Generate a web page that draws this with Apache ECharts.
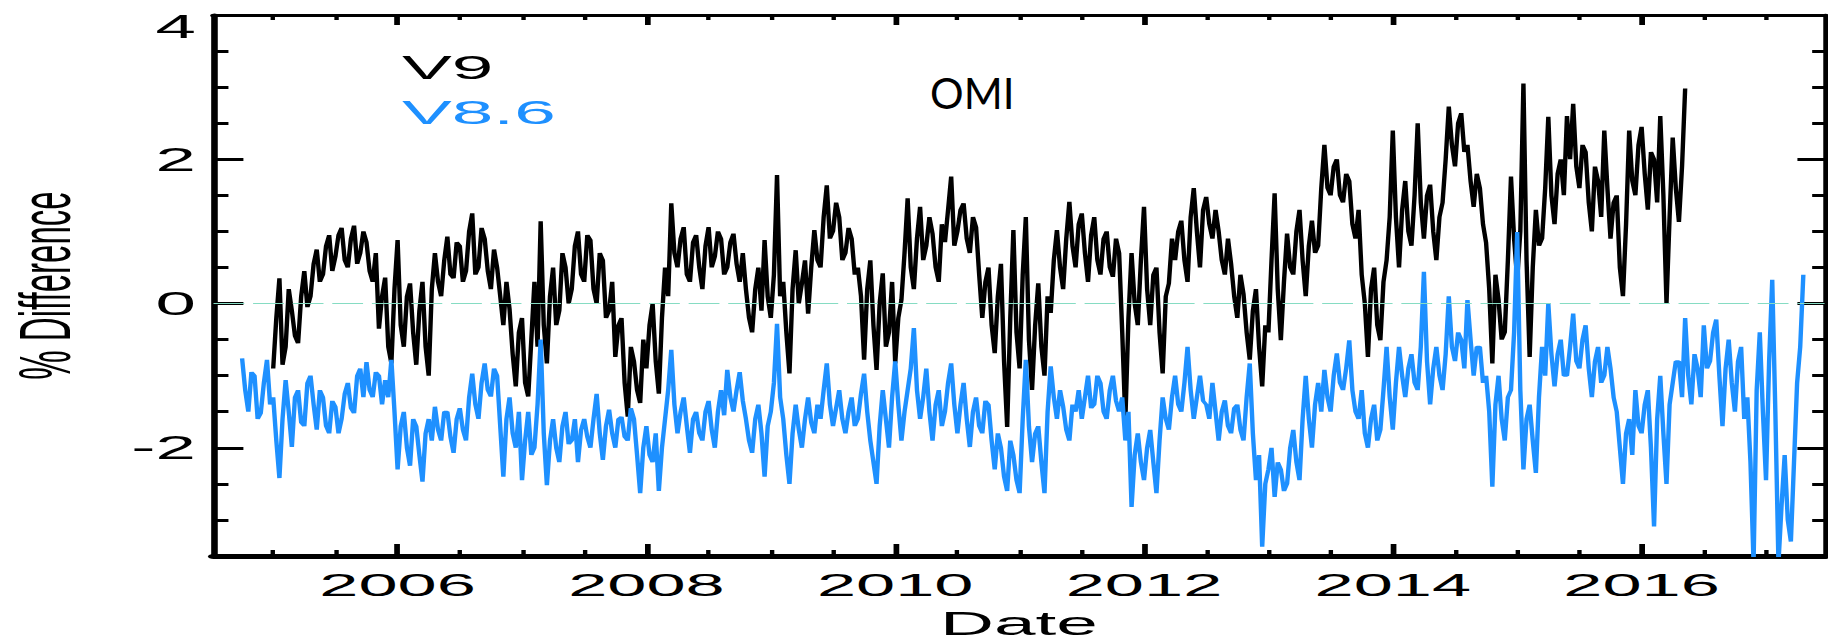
<!DOCTYPE html>
<html>
<head>
<meta charset="utf-8">
<script src="https://cdn.jsdelivr.net/npm/echarts@6/dist/echarts.min.js"></script>
<style>
html,body{margin:0;padding:0;background:#fff;overflow:hidden;}
#wrap{width:1828px;height:642px;position:relative;overflow:hidden;background:#fff;}
#chart{width:831px;height:642px;transform-origin:0 0;}
</style>
</head>
<body>
<div id="wrap"><div id="chart"></div></div>
<script>
// ---------------- data ----------------
const X_MIN = 2004.52, X_MAX = 2017.47;
const Y_MIN = -3.5, Y_MAX = 4;
const yearLabelTicks = [2006, 2008, 2010, 2012, 2014, 2016];
const halfYearTicks = [2005, 2005.5, 2006.5, 2007, 2007.5, 2008.5, 2009, 2009.5, 2010.5, 2011, 2011.5,
  2012.5, 2013, 2013.5, 2014.5, 2015, 2015.5, 2016.5, 2017];
const yLabelTicks = [-2, 0, 2, 4];
const yMinorTicks = [-3, -2.5, -1.5, -1, -0.5, 0.5, 1, 1.5, 2.5, 3, 3.5];
const seriesNames = ['V9', 'V8.6'];
const titleText = 'OMI';

// sampling: every 0.025 year
const STEP = 0.025;
const V9_START = 2005.0;
const v9 = [
  // 2005
  -0.9, -0.2, 0.35, -0.85, -0.6, 0.2, -0.1, -0.45, -0.55, 0.1, 0.45, -0.05, 0.1, 0.55, 0.75, 0.3, 0.4, 0.8, 0.95, 0.45,
  0.65, 0.95, 1.05, 0.6, 0.5, 0.9, 1.08, 0.55, 0.7, 1.0, 0.85, 0.45, 0.3, 0.7, -0.35, 0.1, 0.36, -0.6, -0.83, 0.2,
  // 2006
  0.88, -0.3, -0.6, 0.1, 0.28, -0.4, -0.85, -0.1, 0.3, -0.6, -1.0, 0.2, 0.7, 0.3, 0.1, 0.6, 0.93, 0.4, 0.35, 0.85,
  0.8, 0.3, 0.45, 1.0, 1.25, 0.4, 0.5, 1.05, 0.9, 0.45, 0.2, 0.75, 0.5, 0.1, -0.3, 0.3, -0.08, -0.7, -1.15, -0.4,
  // 2007
  -0.2, -1.1, -1.29, -0.5, 0.3, -0.6, 1.14, -0.3, -0.83, 0.1, 0.5, -0.3, -0.1, 0.7, 0.5, 0.0, 0.2, 0.8, 1.0, 0.4,
  0.3, 0.95, 0.88, 0.2, 0.0, 0.7, 0.6, -0.2, -0.1, 0.3, -0.74, -0.3, -0.2, -1.1, -1.57, -0.6, -0.8, -1.2, -1.38, -0.5,
  // 2008
  -0.9, -0.3, 0.0, -0.8, -1.25, -0.2, 0.5, 0.1, 1.39, 0.7, 0.5, 0.9, 1.06, 0.4, 0.3, 0.85, 0.95, 0.5, 0.2, 0.8,
  1.06, 0.5, 0.65, 1.0, 0.9, 0.4, 0.5, 0.85, 0.97, 0.55, 0.3, 0.7, 0.2, -0.2, -0.4, 0.2, 0.5, -0.1, 0.88, 0.1,
  // 2009
  -0.2, 0.4, 1.78, 0.1, 0.3, -0.4, -0.97, 0.2, 0.74, 0.0, 0.28, 0.6, -0.14, 0.5, 1.02, 0.6, 0.5, 1.2, 1.64, 0.9,
  1.0, 1.4, 1.2, 0.6, 0.7, 1.05, 0.9, 0.4, 0.5, 0.1, -0.78, 0.2, 0.6, -0.3, -0.92, 0.0, 0.42, -0.6, -0.4, 0.3,
  // 2010
  -0.83, -0.2, 0.05, 0.7, 1.46, 0.5, 0.2, 0.9, 1.34, 0.6, 0.8, 1.2, 0.97, 0.5, 0.3, 1.1, 0.85, 1.3, 1.76, 0.8,
  1.0, 1.3, 1.39, 0.9, 0.7, 1.2, 1.06, 0.4, -0.2, 0.3, 0.5, -0.3, -0.69, 0.1, 0.55, -0.8, -1.71, -0.2, 1.02, -0.4,
  // 2011
  -0.9, 0.4, 1.2, -0.5, -1.2, -0.3, 0.28, -0.6, -1.0, 0.1, -0.13, 0.6, 1.02, 0.5, 0.2, 0.9, 1.41, 0.8, 0.5, 1.1,
  1.25, 0.7, 0.3, 0.95, 1.2, 0.6, 0.4, 0.9, 1.0, 0.5, 0.37, 0.9, 0.7, -0.4, -1.62, -0.2, 0.7, 0.0, -0.3, 0.6,
  // 2012
  1.34, 0.2, -0.3, 0.4, 0.5, -0.4, -0.97, 0.1, 0.28, 0.9, 0.6, 1.0, 1.15, 0.6, 0.3, 1.2, 1.6, 1.0, 0.5, 1.3,
  1.48, 1.1, 0.9, 1.3, 1.0, 0.6, 0.4, 0.9, 0.55, 0.1, -0.2, 0.4, 0.13, -0.4, -0.78, -0.1, 0.2, -0.6, -1.15, -0.3,
  // 2013
  -0.4, 0.6, 1.53, 0.2, -0.51, 0.3, 0.97, 0.5, 0.4, 1.0, 1.3, 0.6, 0.1, 0.8, 1.15, 0.7, 0.8, 1.6, 2.2, 1.6,
  1.5, 1.9, 2.0, 1.5, 1.4, 1.8, 1.7, 1.1, 0.9, 1.3, 0.4, 0.0, -0.74, 0.2, 0.5, -0.3, -0.51, 0.3, 0.6, 1.2,
  // 2014
  2.4, 1.2, 0.5, 1.3, 1.7, 1.0, 0.8, 1.5, 2.5, 1.4, 0.9, 1.5, 1.65, 1.0, 0.6, 1.2, 1.4, 2.0, 2.73, 2.2,
  1.9, 2.5, 2.64, 2.1, 2.2, 1.7, 1.34, 1.8, 1.6, 1.1, 0.84, 0.2, -0.83, 0.4, 0.05, -0.5, -0.4, 0.6, 1.76, 0.9,
  // 2015
  0.33, 1.0, 3.05, 0.6, -0.74, 0.5, 1.3, 0.8, 0.9, 1.6, 2.59, 1.5, 1.1, 1.8, 2.0, 1.5, 2.6, 2.0, 2.77, 1.9,
  1.6, 2.2, 2.1, 1.4, 1.0, 1.9, 1.7, 1.2, 2.4, 1.6, 0.9, 1.4, 1.5, 0.5, 0.1, 1.1, 2.4, 1.7, 1.5, 2.2,
  // 2016
  2.45, 1.8, 1.3, 2.1, 2.0, 1.4, 2.6, 1.5, 0.0, 1.2, 2.3, 1.6, 1.13, 1.9, 2.98
];
const V86_START = 2004.75;
const v86 = [
  // 2004.75 - 2004.975
  -0.76, -1.2, -1.5, -0.95, -1.0, -1.6, -1.52, -1.1, -0.78, -1.4,
  // 2005
  -1.3, -1.9, -2.42, -1.6, -1.06, -1.5, -1.99, -1.3, -1.2, -1.65, -1.7, -1.1, -1.0, -1.4, -1.75, -1.2, -1.3, -1.7, -1.8, -1.35,
  -1.43, -1.8, -1.6, -1.25, -1.1, -1.45, -1.52, -1.0, -0.9, -1.3, -0.81, -1.2, -1.3, -0.95, -1.0, -1.4, -1.06, -1.3, -0.78, -1.5,
  // 2006
  -2.3, -1.7, -1.5, -2.0, -2.25, -1.6, -1.7, -2.1, -2.47, -1.8, -1.6, -1.9, -1.43, -1.75, -1.9, -1.5, -1.5, -1.85, -2.07, -1.6,
  -1.45, -1.75, -1.9, -1.3, -0.97, -1.4, -1.6, -1.1, -0.83, -1.2, -1.29, -0.9, -1.0, -1.7, -2.4, -1.6, -1.3, -1.8, -2.0, -1.5,
  // 2007
  -2.45, -1.9, -1.5, -2.1, -2.0, -1.4, -0.5, -1.8, -2.52, -1.9, -1.6, -2.0, -2.2, -1.7, -1.5, -1.95, -1.9, -1.6, -2.2, -1.75,
  -1.6, -1.85, -2.0, -1.6, -1.25, -1.8, -2.17, -1.7, -1.47, -1.8, -2.0, -1.6, -1.57, -1.85, -1.9, -1.45, -1.6, -2.1, -2.63, -2.0,
  // 2008
  -1.7, -2.1, -2.2, -1.8, -2.6, -2.0, -1.6, -1.2, -0.64, -1.4, -1.8, -1.5, -1.3, -1.7, -2.07, -1.6, -1.5, -1.8, -1.9, -1.5,
  -1.35, -1.75, -2.0, -1.5, -1.2, -1.55, -0.92, -1.3, -1.5, -1.2, -0.95, -1.35, -1.6, -1.9, -2.07, -1.6, -1.4, -1.8, -2.4, -1.7,
  // 2009
  -1.5, -1.1, -0.28, -1.3, -1.6, -2.1, -2.5, -1.8, -1.4, -1.75, -2.0, -1.6, -1.3, -1.65, -1.8, -1.4, -1.6, -1.2, -0.83, -1.4,
  -1.7, -1.45, -1.2, -1.6, -1.8, -1.5, -1.3, -1.7, -1.6, -1.25, -0.97, -1.5, -1.9, -2.2, -2.5, -1.7, -1.2, -1.6, -2.0, -1.3,
  // 2010
  -0.8, -1.4, -1.9, -1.5, -1.2, -0.9, -0.34, -1.2, -1.6, -1.3, -0.9, -1.5, -1.9, -1.4, -1.2, -1.7, -1.5, -1.1, -0.83, -1.4,
  -1.8, -1.4, -1.1, -1.6, -1.99, -1.5, -1.3, -1.7, -1.8, -1.35, -1.4, -1.9, -2.3, -1.8, -2.0, -2.4, -2.6, -1.9, -2.1, -2.45,
  // 2011
  -2.63, -1.6, -0.78, -1.7, -2.2, -1.8, -1.7, -2.2, -2.63, -1.5, -0.87, -1.3, -1.6, -1.2, -1.43, -1.75, -1.9, -1.4, -1.5, -1.2,
  -1.6, -1.3, -1.0, -1.45, -1.4, -1.0, -1.1, -1.5, -1.6, -1.2, -1.0, -1.35, -1.5, -1.3, -1.9, -1.5, -2.82, -2.1, -1.8, -2.2,
  // 2012
  -2.45, -2.0, -1.75, -2.2, -2.63, -1.9, -1.3, -1.6, -1.75, -1.3, -1.0, -1.4, -1.5, -1.1, -0.6, -1.2, -1.6, -1.3, -1.0, -1.35,
  -1.4, -1.6, -1.1, -1.5, -1.9, -1.5, -1.34, -1.7, -1.8, -1.45, -1.4, -1.75, -1.9, -1.3, -0.83, -1.8, -2.45, -2.1, -3.37, -2.5,
  // 2013
  -2.3, -2.0, -2.68, -2.2, -2.3, -2.6, -2.5, -2.0, -1.75, -2.2, -2.45, -1.6, -1.0, -1.6, -2.0, -1.4, -1.1, -1.5, -0.92, -1.3,
  -1.5, -1.0, -0.69, -1.1, -1.2, -0.9, -0.51, -1.2, -1.5, -1.6, -1.2, -1.8, -2.0, -1.6, -1.4, -1.9, -1.75, -1.2, -0.6, -1.3,
  // 2014
  -1.75, -1.1, -0.6, -1.0, -1.3, -0.9, -0.7, -1.1, -1.2, -0.6, 0.44, -0.8, -1.4, -0.9, -0.6, -1.0, -1.2, -0.7, 0.1, -0.6,
  -0.8, -0.4, -0.5, -0.9, 0.05, -0.5, -1.0, -0.6, -0.6, -1.1, -1.0, -1.5, -2.54, -1.4, -1.0, -1.6, -1.9, -1.3, -1.2, -0.4,
  // 2015
  0.99, -1.2, -2.3, -1.6, -1.4, -1.9, -2.35, -1.3, -0.6, -1.0, 0.0, -0.7, -1.15, -0.7, -0.5, -1.0, -1.0, -0.6, -0.14, -0.8,
  -0.9, -0.5, -0.3, -0.9, -1.3, -0.8, -0.6, -1.1, -1.0, -0.6, -0.9, -1.3, -1.5, -2.0, -2.5, -1.8, -1.6, -2.1, -1.2, -1.7,
  // 2016
  -1.8, -1.4, -1.2, -2.0, -3.09, -1.6, -1.0, -1.8, -2.5, -1.4, -1.1, -0.8, -0.8, -1.3, -0.2, -1.0, -1.4, -0.7, -0.9, -1.3,
  -0.3, -0.9, -0.8, -0.4, -0.22, -1.0, -1.7, -0.9, -0.5, -1.1, -1.5, -0.8, -0.6, -1.6, -1.3, -2.2, -3.6, -1.2, -0.4, -1.5,
  // 2017
  -2.45, -0.8, 0.33, -1.5, -3.6, -2.8, -2.1, -3.0, -3.3, -2.2, -1.1, -0.6, 0.4
];

// ---------------- layout ----------------
const FULL_W = 1828, INNER_W = 831;
const SX = FULL_W / INNER_W;   // the figure is stretched horizontally
const el = document.getElementById('chart');
el.style.transform = 'scaleX(' + SX + ')';

function pairs(start, vals) {
  return vals.map((v, i) => [+(start + i * STEP).toFixed(4), v]);
}

const FONT = 'Liberation Sans, Arial, Helvetica, sans-serif';
const BLACK = '#000000';
const BLUE = '#1E90FF';

function xAx(pos, ticks, len, w, lineW, labels) {
  return {
    type: 'value', min: X_MIN, max: X_MAX, position: pos,
    splitLine: {show: false},
    axisLine: {show: lineW > 0, onZero: false, lineStyle: {color: BLACK, width: lineW}},
    axisTick: {show: true, inside: true, length: len, customValues: ticks, lineStyle: {color: BLACK, width: w}},
    axisLabel: labels ? {show: true, customValues: yearLabelTicks, formatter: v => String(v), margin: 13,
      fontSize: 32, fontFamily: FONT, color: BLACK} : {show: false}
  };
}
function yAx(pos, ticks, len, w, lineW, labels) {
  return {
    type: 'value', min: Y_MIN, max: Y_MAX, position: pos,
    splitLine: {show: false},
    axisLine: {show: lineW > 0, onZero: false, lineStyle: {color: BLACK, width: lineW}},
    axisTick: {show: true, inside: true, length: len, customValues: ticks, lineStyle: {color: BLACK, width: w}},
    axisLabel: labels ? {
      show: true, customValues: yLabelTicks, margin: 8,
      formatter: v => (v === Y_MAX ? '{top|' + v + '}' : String(v)),
      fontSize: 33, fontFamily: FONT, color: BLACK,
      rich: {top: {fontSize: 33, fontFamily: FONT, color: BLACK, padding: [24, 0, 0, 0]}}
    } : {show: false}
  };
}

const xAxes = [
  Object.assign(xAx('bottom', yearLabelTicks, 12, 2.6, 5, true), {
    name: 'Date', nameLocation: 'middle', nameGap: 45,
    nameTextStyle: {fontSize: 34, fontFamily: FONT, color: BLACK}
  }),
  xAx('bottom', halfYearTicks, 6, 2, 0, false),
  xAx('top', yearLabelTicks, 10, 2.6, 3, false),
  xAx('top', halfYearTicks, 5, 2, 0, false)
];
const yAxes = [
  Object.assign(yAx('left', yLabelTicks, 13.6, 3, 3, true), {
    name: '% Difference', nameLocation: 'middle', nameRotate: 90, nameGap: 60,
    nameTextStyle: {fontSize: 33, fontFamily: FONT, color: BLACK}
  }),
  yAx('left', yMinorTicks, 6.8, 3, 0, false),
  yAx('right', yLabelTicks, 12.3, 3, 2.3, false),
  yAx('right', yMinorTicks, 5.6, 3, 0, false)
];

const chart = echarts.init(el, null, {renderer: 'svg', width: INNER_W, height: 642});
chart.setOption({
  animation: false,
  backgroundColor: '#ffffff',
  grid: {left: 97.05, right: 1.6, top: 15, bottom: 86, containLabel: false, outerBoundsMode: 'none'},
  xAxis: xAxes,
  yAxis: yAxes,
  series: [
    {
      name: seriesNames[0], type: 'line', xAxisIndex: 0, yAxisIndex: 0,
      data: pairs(V9_START, v9), symbol: 'none', showSymbol: false,
      lineStyle: {color: BLACK, width: 2.0}, z: 2,
      markLine: {
        silent: true, symbol: 'none', label: {show: false},
        lineStyle: {color: '#86dcc3', width: 1.2, type: [14, 4]},
        data: [{yAxis: 0}]
      }
    },
    {
      name: seriesNames[1], type: 'line', xAxisIndex: 0, yAxisIndex: 0,
      data: pairs(V86_START, v86), symbol: 'none', showSymbol: false,
      lineStyle: {color: BLUE, width: 2.0}, z: 3
    }
  ],
  graphic: [
    {type: 'text', x: 182.7, y: 67, z: 10,
      style: {text: seriesNames[0], fill: BLACK, font: '34px ' + FONT, textAlign: 'left', textVerticalAlign: 'middle'}},
    {type: 'text', x: 182.7, y: 112, z: 10,
      style: {text: seriesNames[1], fill: BLUE, font: '34px ' + FONT, textAlign: 'left', textVerticalAlign: 'middle'}},
    {type: 'text', x: 930 / SX, y: 93, scaleX: 1 / SX, z: 10,
      style: {text: titleText, fill: BLACK, font: '42px Lato, "Open Sans", sans-serif', textAlign: 'left', textVerticalAlign: 'middle'}}
  ]
});
</script>
</body>
</html>
